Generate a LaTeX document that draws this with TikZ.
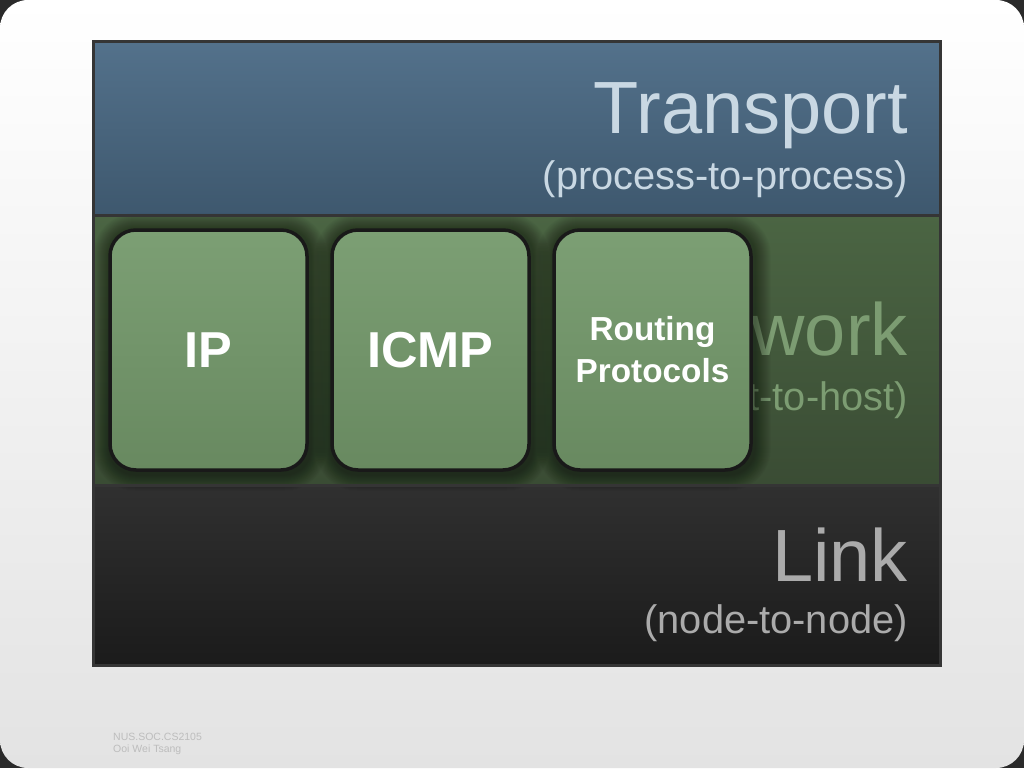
\documentclass[tikz,border=0pt]{standalone}
\usepackage{fontspec}
\setmainfont{Liberation Sans}
\usetikzlibrary{calc}
\definecolor{cornerdark}{HTML}{2A2A2A}
\definecolor{bgbot}{HTML}{E3E3E3}
\definecolor{tbtop}{HTML}{53718B}
\definecolor{tbbot}{HTML}{3E586E}
\definecolor{nbtop}{HTML}{4B6543}
\definecolor{nbbot}{HTML}{3A4C34}
\definecolor{lbtop}{HTML}{303030}
\definecolor{lbbot}{HTML}{1B1B1B}
\definecolor{ttext}{HTML}{C9D8E3}
\definecolor{ntext}{HTML}{7C9C72}
\definecolor{ltext}{HTML}{ABABAB}
\definecolor{boxtop}{HTML}{7C9F74}
\definecolor{boxbot}{HTML}{688960}
\definecolor{bordercol}{HTML}{353535}
\definecolor{footcol}{HTML}{BDBDBD}
\pgfdeclarelayer{bg}
\pgfdeclarelayer{glow}
\pgfdeclarelayer{front}
\pgfsetlayers{bg,glow,main,front}
\tikzset{
  bigtitle/.style={anchor=base east, inner sep=0pt, font=\fontsize{74}{80}\selectfont},
  subtitle/.style={anchor=base east, inner sep=0pt, font=\fontsize{39.8}{46}\selectfont},
  protobox/.style={draw=black!90, line width=3.5pt, rounded corners=26pt,
    top color=boxtop, bottom color=boxbot, minimum width=197pt, minimum height=240pt,
    text=white, align=center, inner sep=0pt},
  biglabel/.style={font=\bfseries\fontsize{50.5}{58}\selectfont},
  smalllabel/.style={font=\bfseries\fontsize{33.3}{42}\selectfont},
  footer/.style={anchor=base west, inner sep=0pt, text=footcol, font=\fontsize{10.5}{12}\selectfont},
  layerline/.style={draw=bordercol, line width=3pt}
}
\begin{document}
\begin{tikzpicture}[x=1pt,y=-1pt]
\useasboundingbox (0,0) rectangle (1024,768);
\begin{pgfonlayer}{bg}
  \fill[cornerdark] (0,0) rectangle (1024,768);
  \shade[top color=white, bottom color=bgbot, rounded corners=28pt] (0,0) rectangle (1024,768);
  \shade[top color=tbtop, bottom color=tbbot] (93,42) rectangle (940,215);
  \shade[top color=nbtop, bottom color=nbbot] (93,215) rectangle (940,485);
  \shade[top color=lbtop, bottom color=lbbot] (93,485) rectangle (940,665);
  \node[bigtitle, text=ttext] (ttitle) at (908,133) {Transport};
  \node[subtitle, text=ttext] (tsub) at (908,189) {(process-to-process)};
  \node[bigtitle, text=ntext] (ntitle) at (908,355) {Network};
  \node[subtitle, text=ntext] (nsub) at (908,410) {(host-to-host)};
  \node[bigtitle, text=ltext] (ltitle) at (908,581) {Link};
  \node[subtitle, text=ltext] (lsub) at (908,633) {(node-to-node)};
  \node[footer] (f1) at (113,740) {NUS.SOC.CS2105};
  \node[footer] (f2) at (113,752) {Ooi Wei Tsang};
\end{pgfonlayer}

\node[protobox, biglabel] (ip) at (208.5,350) {IP};
\node[protobox, biglabel] (icmp) at (430.5,350) {ICMP};
\node[protobox, smalllabel] (rp) at (652.5,350) {Routing\\Protocols};

\begin{pgfonlayer}{glow}
  \foreach \n in {ip,icmp,rp}{
    \foreach \k in {1,...,16}{
      \fill[black, opacity=0.028, rounded corners=26pt+\k pt]
        ($(\n.north west)+(-\k+1,-\k+1)$) rectangle ($(\n.south east)+(\k+2,\k+3)$);
    }
  }
\end{pgfonlayer}

\begin{pgfonlayer}{front}
  \draw[layerline] (93,42) rectangle (940,665);
  \draw[layerline] (93,215) -- (940,215);
  \draw[layerline] (93,485) -- (940,485);
\end{pgfonlayer}
\end{tikzpicture}
\end{document}
